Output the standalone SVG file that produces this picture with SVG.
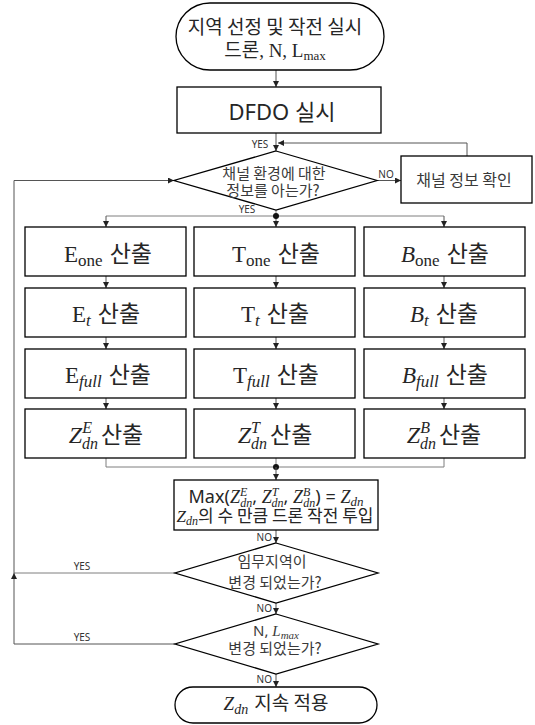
<svg xmlns="http://www.w3.org/2000/svg" width="535" height="725" viewBox="0 0 535 725">
<defs>
<marker id="ah" viewBox="0 0 10 10" refX="10" refY="5" markerWidth="6" markerHeight="6" markerUnits="userSpaceOnUse" orient="auto"><path d="M0,0 L10,5 L0,10 z" fill="#222"/></marker>
<style>
.box{fill:#fff;stroke:#000;stroke-width:1.3}
.conn{fill:none;stroke:#7f7f7f;stroke-width:1}
.arr{fill:none;stroke:#555;stroke-width:1;marker-end:url(#ah)}
.lbl{font-family:"Noto Sans","Open Sans",sans-serif;font-size:10px;fill:#333}
.kr{font-family:"Noto Sans CJK KR",sans-serif}
.sans{font-family:"Noto Sans","Noto Sans CJK KR",sans-serif}
.m{font-family:"Liberation Serif",serif}
.i{font-style:italic}
.t{fill:#262626}
.g{fill:#3a3a3a}
</style>
</defs>
<rect width="535" height="725" fill="#fff"/>
<g id="connectors">
<path class="arr" d="M276,70 V87"/>
<path class="arr" d="M276,133 V151"/>
<path class="arr" d="M467,156 V143 H278"/>
<path class="arr" d="M377,180.5 H401"/>
<path class="conn" d="M276,210 V216"/>
<path class="conn" d="M106,216 H444"/>
<path class="arr" d="M106,216 V227"/>
<path class="arr" d="M276,216 V227"/>
<path class="arr" d="M444,216 V227"/>
<path class="arr" d="M106,276 V288"/><path class="arr" d="M276,276 V288"/><path class="arr" d="M444,276 V288"/>
<path class="arr" d="M106,337 V349"/><path class="arr" d="M276,337 V349"/><path class="arr" d="M444,337 V349"/>
<path class="arr" d="M106,398 V409"/><path class="arr" d="M276,398 V409"/><path class="arr" d="M444,398 V409"/>
<path class="conn" d="M106,458 V467 H444 V458"/>
<path class="conn" d="M276,458 V467"/>
<circle cx="276" cy="216" r="3" fill="#111"/>
<circle cx="276" cy="467" r="3" fill="#111"/>
<path class="arr" d="M276,467 V480"/>
<path class="arr" d="M276,530 V543"/>
<path class="arr" d="M276,603 V614"/>
<path class="arr" d="M276,674 V687"/>
<path class="conn" d="M175,573 H14"/>
<path class="arr" d="M175,644 H14 V573"/>
<path class="arr" d="M14,573 V180.5 H174"/>
<text class="lbl" x="260" y="148" text-anchor="middle">YES</text>
<text class="lbl" x="386" y="178" text-anchor="middle">NO</text>
<text class="lbl" x="247" y="213" text-anchor="middle">YES</text>
<text class="lbl" x="272" y="541" text-anchor="end">NO</text>
<text class="lbl" x="82" y="570" text-anchor="middle">YES</text>
<text class="lbl" x="272" y="612" text-anchor="end">NO</text>
<text class="lbl" x="82" y="641" text-anchor="middle">YES</text>
<text class="lbl" x="272" y="683" text-anchor="end">NO</text>
</g>
<g id="start">
<rect class="box" x="176" y="3" width="208" height="67" rx="34" ry="34"/>
<text class="kr t" x="275" y="34" font-size="19" text-anchor="middle">지역 선정 및 작전 실시</text>
<text class="t" x="275" y="57" text-anchor="middle" font-size="19"><tspan class="kr">드론</tspan><tspan class="m">, N, L</tspan><tspan class="m" font-size="13" dy="3">max</tspan></text>
</g>
<g id="dfdo">
<rect class="box" x="177" y="87" width="204" height="46"/>
<text class="sans t" x="282" y="120" font-size="22" text-anchor="middle">DFDO 실시</text>
</g>
<g id="decision1">
<polygon class="box" points="276,151 377,180.5 276,210 174,180.5"/>
<text class="kr g" x="274" y="179" font-size="15" text-anchor="middle">채널 환경에 대한</text>
<text class="kr g" x="273" y="196" font-size="15" text-anchor="middle">정보를 아는가?</text>
</g>
<g id="channel">
<rect class="box" x="401" y="156" width="131" height="47"/>
<text class="kr g" x="464" y="186" font-size="16" text-anchor="middle">채널 정보 확인</text>
</g>
<g id="e-one"><rect class="box" x="25" y="227" width="161" height="49"/>
<text class="t" x="108" y="262" text-anchor="middle" font-size="23"><tspan class="m">E</tspan><tspan class="m" font-size="17" dy="4">one</tspan><tspan class="kr" dy="-4" dx="7">산출</tspan></text></g>
<g id="t-one"><rect class="box" x="194" y="227" width="161" height="49"/>
<text class="t" x="276" y="262" text-anchor="middle" font-size="23"><tspan class="m">T</tspan><tspan class="m" font-size="17" dy="4">one</tspan><tspan class="kr" dy="-4" dx="7">산출</tspan></text></g>
<g id="b-one"><rect class="box" x="364" y="227" width="161" height="49"/>
<text class="t" x="445" y="262" text-anchor="middle" font-size="23"><tspan class="m i">B</tspan><tspan class="m" font-size="17" dy="4">one</tspan><tspan class="kr" dy="-4" dx="7">산출</tspan></text></g>
<g id="e-t"><rect class="box" x="25" y="288" width="161" height="49"/>
<text class="t" x="106" y="322" text-anchor="middle" font-size="23"><tspan class="m">E</tspan><tspan class="m i" font-size="17" dy="4">t</tspan><tspan class="kr" dy="-4" dx="7">산출</tspan></text></g>
<g id="t-t"><rect class="box" x="194" y="288" width="161" height="49"/>
<text class="t" x="275" y="322" text-anchor="middle" font-size="23"><tspan class="m">T</tspan><tspan class="m i" font-size="17" dy="4">t</tspan><tspan class="kr" dy="-4" dx="7">산출</tspan></text></g>
<g id="b-t"><rect class="box" x="364" y="288" width="161" height="49"/>
<text class="t" x="444" y="322" text-anchor="middle" font-size="23"><tspan class="m i">B</tspan><tspan class="m i" font-size="17" dy="4">t</tspan><tspan class="kr" dy="-4" dx="7">산출</tspan></text></g>
<g id="e-full"><rect class="box" x="25" y="349" width="161" height="49"/>
<text class="t" x="108" y="383" text-anchor="middle" font-size="23"><tspan class="m">E</tspan><tspan class="m i" font-size="17" dy="4">full</tspan><tspan class="kr" dy="-4" dx="7">산출</tspan></text></g>
<g id="t-full"><rect class="box" x="194" y="349" width="161" height="49"/>
<text class="t" x="276" y="383" text-anchor="middle" font-size="23"><tspan class="m">T</tspan><tspan class="m i" font-size="17" dy="4">full</tspan><tspan class="kr" dy="-4" dx="7">산출</tspan></text></g>
<g id="b-full"><rect class="box" x="364" y="349" width="161" height="49"/>
<text class="t" x="445" y="383" text-anchor="middle" font-size="23"><tspan class="m i">B</tspan><tspan class="m i" font-size="17" dy="4">full</tspan><tspan class="kr" dy="-4" dx="7">산출</tspan></text></g>
<g id="z-e"><rect class="box" x="25" y="409" width="161" height="49"/>
<text class="t" x="106" y="443" text-anchor="middle" font-size="24"><tspan class="m i">Z</tspan><tspan class="m i" font-size="16" dy="-10">E</tspan><tspan class="m i" font-size="16" dx="-10" dy="16">dn</tspan><tspan class="kr" font-size="23" dy="-6" dx="3">산출</tspan></text></g>
<g id="z-t"><rect class="box" x="194" y="409" width="161" height="49"/>
<text class="t" x="275" y="443" text-anchor="middle" font-size="24"><tspan class="m i">Z</tspan><tspan class="m i" font-size="16" dy="-10">T</tspan><tspan class="m i" font-size="16" dx="-9" dy="16">dn</tspan><tspan class="kr" font-size="23" dy="-6" dx="3">산출</tspan></text></g>
<g id="z-b"><rect class="box" x="364" y="409" width="161" height="49"/>
<text class="t" x="444" y="443" text-anchor="middle" font-size="24"><tspan class="m i">Z</tspan><tspan class="m i" font-size="16" dy="-10">B</tspan><tspan class="m i" font-size="16" dx="-10" dy="16">dn</tspan><tspan class="kr" font-size="23" dy="-6" dx="3">산출</tspan></text></g>
<g id="max">
<rect class="box" x="174" y="480" width="204" height="50"/>
<text class="t" x="276" y="503" text-anchor="middle" font-size="18"><tspan class="sans">Max(</tspan><tspan class="m i">Z</tspan><tspan class="m i" font-size="12" dy="-7">E</tspan><tspan class="m i" font-size="12" dx="-7" dy="11">dn</tspan><tspan class="sans" dy="-4">, </tspan><tspan class="m i">Z</tspan><tspan class="m i" font-size="12" dy="-7">T</tspan><tspan class="m i" font-size="12" dx="-7" dy="11">dn</tspan><tspan class="sans" dy="-4">, </tspan><tspan class="m i">Z</tspan><tspan class="m i" font-size="12" dy="-7">B</tspan><tspan class="m i" font-size="12" dx="-7" dy="11">dn</tspan><tspan class="sans" dy="-4">) = </tspan><tspan class="m i">Z</tspan><tspan class="m i" font-size="13" dy="3">dn</tspan></text>
<text class="t" x="275" y="522" text-anchor="middle" font-size="17"><tspan class="m i">Z</tspan><tspan class="m i" font-size="12" dy="3">dn</tspan><tspan class="kr" dy="-3">의 수 만큼 드론 작전 투입</tspan></text>
</g>
<g id="decision2">
<polygon class="box" points="276,543 378,573 276,603 175,573"/>
<text class="kr g" x="272" y="567" font-size="15" text-anchor="middle">임무지역이</text>
<text class="kr g" x="275" y="588" font-size="15" text-anchor="middle">변경 되었는가?</text>
</g>
<g id="decision3">
<polygon class="box" points="276,614 378,644 276,674 175,644"/>
<text class="g" x="276" y="636" font-size="15" text-anchor="middle"><tspan class="sans">N, </tspan><tspan class="m i">L</tspan><tspan class="m i" font-size="11" dy="3">max</tspan></text>
<text class="kr g" x="275" y="654" font-size="15" text-anchor="middle">변경 되었는가?</text>
</g>
<g id="end">
<rect class="box" x="175" y="687" width="202" height="36" rx="18" ry="18"/>
<text class="t" x="276" y="710" text-anchor="middle" font-size="19"><tspan class="m i">Z</tspan><tspan class="m i" font-size="14" dy="4">dn</tspan><tspan class="kr" dy="-4" dx="6">지속 적용</tspan></text>
</g>
</svg>
